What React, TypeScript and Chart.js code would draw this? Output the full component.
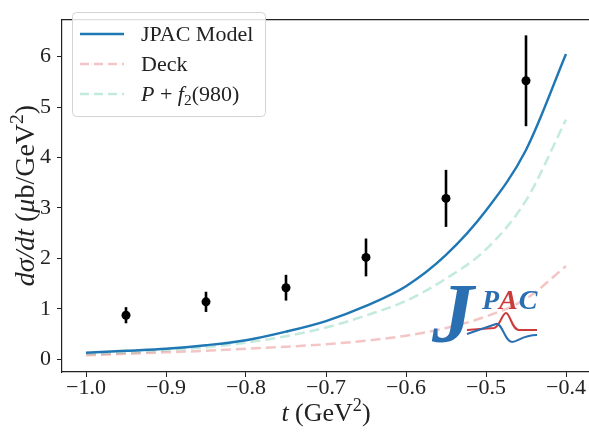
import React, { useEffect, useRef } from "react";
import { Chart, registerables } from "chart.js";

Chart.register(...registerables);

// ---- data ----
const xTicks = [-1.0, -0.9, -0.8, -0.7, -0.6, -0.5, -0.4];
const yTicks = [0, 1, 2, 3, 4, 5, 6];

const tGrid = [-1.0, -0.95, -0.9, -0.85, -0.8, -0.75, -0.7, -0.65, -0.6, -0.55, -0.5, -0.45, -0.4];
const jpacModel = [0.13, 0.17, 0.21, 0.28, 0.38, 0.55, 0.76, 1.06, 1.45, 2.07, 2.95, 4.15, 6.05];
const deck = [0.08, 0.11, 0.14, 0.17, 0.21, 0.25, 0.3, 0.37, 0.47, 0.62, 0.85, 1.2, 1.85];
const pomF2 = [0.1, 0.13, 0.18, 0.24, 0.33, 0.46, 0.63, 0.87, 1.16, 1.6, 2.18, 3.15, 4.75];

const dataT = [-0.95, -0.85, -0.75, -0.65, -0.55, -0.45];
const dataY = [0.875, 1.14, 1.42, 2.02, 3.19, 5.52];
const dataErr = [0.16, 0.2, 0.255, 0.375, 0.565, 0.9];

const FONT = '"Liberation Serif", "Times New Roman", serif';
const PINK = "rgba(214,39,40,0.27)";
const TEAL = "rgba(100,200,170,0.38)";

type Seg = { t: string; it?: boolean; sup?: boolean; sub?: boolean };

function segFont(s: Seg, size: number) {
  const sz = s.sup || s.sub ? size * 0.7 : size;
  return `${s.it ? "italic " : ""}${sz}px ${FONT}`;
}

function drawRich(ctx: CanvasRenderingContext2D, segs: Seg[], x: number, y: number, size: number, align: "left" | "center") {
  let w = 0;
  for (const s of segs) {
    ctx.font = segFont(s, size);
    w += ctx.measureText(s.t).width;
  }
  let cx = align === "center" ? x - w / 2 : x;
  ctx.textAlign = "left";
  ctx.textBaseline = "alphabetic";
  for (const s of segs) {
    ctx.font = segFont(s, size);
    let dy = 0;
    if (s.sup) dy = -size * 0.38;
    if (s.sub) dy = size * 0.18;
    ctx.fillText(s.t, cx, y + dy);
    cx += ctx.measureText(s.t).width;
  }
}

const fmt = (v: number) => (v < 0 ? "\u2212" : "") + Math.abs(v).toFixed(1);

const overlay = {
  id: "overlay",
  beforeDatasetsDraw(chart: any) {
    const { ctx, scales } = chart;
    const xs = scales.x, ys = scales.y;
    ctx.save();
    ctx.strokeStyle = "#000";
    ctx.lineWidth = 2.6;
    for (let i = 0; i < dataT.length; i++) {
      const px = xs.getPixelForValue(dataT[i]);
      ctx.beginPath();
      ctx.moveTo(px, ys.getPixelForValue(dataY[i] - dataErr[i]));
      ctx.lineTo(px, ys.getPixelForValue(dataY[i] + dataErr[i]));
      ctx.stroke();
    }
    ctx.restore();
  },
  afterDatasetsDraw(chart: any) {
    const ctx: CanvasRenderingContext2D = chart.ctx;
    // JPAC logo (decoration)
    ctx.save();
    const blue = "#2a6fb2";
    const red = "#cc3b3b";
    ctx.fillStyle = blue;
    ctx.textBaseline = "alphabetic";
    ctx.textAlign = "left";
    ctx.font = `bold italic 84px ${FONT}`;
    ctx.fillText("J", 432, 342);
    ctx.font = `bold italic 28px ${FONT}`;
    ctx.fillText("P", 482, 309);
    let w = ctx.measureText("P").width;
    ctx.fillStyle = red;
    ctx.fillText("A", 482 + w, 309);
    const w2 = ctx.measureText("A").width;
    ctx.fillStyle = blue;
    ctx.fillText("C", 482 + w + w2 + 1, 309);
    ctx.lineWidth = 2;
    ctx.strokeStyle = red;
    ctx.beginPath();
    ctx.moveTo(467, 330);
    ctx.lineTo(494, 328);
    ctx.bezierCurveTo(500, 327, 502, 313, 506, 313);
    ctx.bezierCurveTo(510, 313, 512, 330, 519, 330);
    ctx.lineTo(537, 330);
    ctx.stroke();
    ctx.strokeStyle = blue;
    ctx.beginPath();
    ctx.moveTo(467, 334);
    ctx.lineTo(496, 324);
    ctx.bezierCurveTo(502, 322, 505, 342, 512, 342);
    ctx.bezierCurveTo(518, 342, 522, 335, 537, 335);
    ctx.stroke();
    ctx.restore();
  },
  afterDraw(chart: any) {
    const ctx: CanvasRenderingContext2D = chart.ctx;
    const ca = chart.chartArea;
    ctx.save();
    // top spine
    ctx.strokeStyle = "#222";
    ctx.lineWidth = 1.2;
    ctx.beginPath();
    ctx.moveTo(ca.left, ca.top + 0.5);
    ctx.lineTo(ca.right + 10, ca.top + 0.5);
    ctx.stroke();

    // legend
    ctx.fillStyle = "rgba(255,255,255,0.85)";
    ctx.strokeStyle = "#d4d4d4";
    ctx.lineWidth = 1;
    ctx.beginPath();
    (ctx as any).roundRect(72.5, 12.5, 193, 104, 4);
    ctx.fill();
    ctx.stroke();
    const rows = [
      { y: 34, color: "#1f77b4", dash: [] as number[], segs: [{ t: "JPAC Model" }] as Seg[] },
      { y: 64, color: PINK, dash: [9, 5], segs: [{ t: "Deck" }] as Seg[] },
      {
        y: 94,
        color: TEAL,
        dash: [9, 5],
        segs: [{ t: "P", it: true }, { t: " + " }, { t: "f", it: true }, { t: "2", sub: true }, { t: "(980)" }] as Seg[],
      },
    ];
    for (const r of rows) {
      ctx.strokeStyle = r.color;
      ctx.lineWidth = r.dash.length ? 2.5 : 2.4;
      ctx.setLineDash(r.dash);
      ctx.beginPath();
      ctx.moveTo(80, r.y);
      ctx.lineTo(124, r.y);
      ctx.stroke();
      ctx.setLineDash([]);
      ctx.fillStyle = "#222";
      drawRich(ctx, r.segs, 141, r.y + 7, 22, "left");
    }

    // axis titles
    ctx.fillStyle = "#222";
    drawRich(
      ctx,
      [{ t: "t", it: true }, { t: " (GeV" }, { t: "2", sup: true }, { t: ")" }],
      (ca.left + ca.right) / 2,
      421,
      26,
      "center"
    );
    ctx.save();
    ctx.translate(34, (ca.top + ca.bottom) / 2);
    ctx.rotate(-Math.PI / 2);
    drawRich(
      ctx,
      [
        { t: "d\u03c3/dt", it: true },
        { t: " (" },
        { t: "\u03bc", it: true },
        { t: "b/GeV" },
        { t: "2", sup: true },
        { t: ")" },
      ],
      0,
      0,
      28,
      "center"
    );
    ctx.restore();
    ctx.restore();
  },
};

export default function App() {
  const ref = useRef<HTMLCanvasElement>(null);
  useEffect(() => {
    if (!ref.current) return;
    const chart = new Chart(ref.current, {
      type: "line",
      data: {
        datasets: [
          {
            label: "JPAC Model",
            data: tGrid.map((t, i) => ({ x: t, y: jpacModel[i] })),
            borderColor: "#1f77b4",
            borderWidth: 2.4,
            pointRadius: 0,
            cubicInterpolationMode: "monotone",
            fill: false,
          },
          {
            label: "Deck",
            data: tGrid.map((t, i) => ({ x: t, y: deck[i] })),
            borderColor: PINK,
            borderDash: [10, 5],
            borderWidth: 2.5,
            pointRadius: 0,
            cubicInterpolationMode: "monotone",
            fill: false,
          },
          {
            label: "P + f2(980)",
            data: tGrid.map((t, i) => ({ x: t, y: pomF2[i] })),
            borderColor: TEAL,
            borderDash: [10, 5],
            borderWidth: 2.5,
            pointRadius: 0,
            cubicInterpolationMode: "monotone",
            fill: false,
          },
          {
            label: "data",
            data: dataT.map((t, i) => ({ x: t, y: dataY[i] })),
            showLine: false,
            pointRadius: 4.5,
            pointBackgroundColor: "#000",
            pointBorderWidth: 0,
            borderColor: "#000",
          },
        ],
      },
      options: {
        responsive: false,
        animation: false,
        devicePixelRatio: 1,
        layout: { padding: { top: 7, left: 0, right: 10, bottom: 0 } },
        plugins: { legend: { display: false }, tooltip: { enabled: false } },
        scales: {
          x: {
            type: "linear",
            min: -1.03,
            max: -0.37,
            afterBuildTicks: (s: any) => {
              s.ticks = xTicks.map((v) => ({ value: v }));
            },
            afterFit: (s: any) => {
              s.height = 60;
            },
            grid: { drawOnChartArea: false, drawTicks: true, tickLength: 5, color: "#222" },
            border: { display: true, color: "#222", width: 1.2 },
            ticks: {
              autoSkip: false,
              maxRotation: 0,
              padding: -2,
              color: "#222",
              font: { family: FONT, size: 22 },
              callback: (v: any) => fmt(Number(v)),
            },
          },
          y: {
            type: "linear",
            min: -0.25,
            max: 6.74,
            afterBuildTicks: (s: any) => {
              s.ticks = yTicks.map((v) => ({ value: v }));
            },
            afterFit: (s: any) => {
              s.width = 62;
            },
            grid: { drawOnChartArea: false, drawTicks: true, tickLength: 5, color: "#222" },
            border: { display: true, color: "#222", width: 1.2 },
            ticks: {
              autoSkip: false,
              padding: 6,
              color: "#222",
              font: { family: FONT, size: 22 },
              callback: (v: any) => String(Math.round(Number(v))),
            },
          },
        },
      },
      plugins: [overlay],
    } as any);
    return () => chart.destroy();
  }, []);
  return (
    <div style={{ position: "absolute", left: 0, top: 0, width: 589, height: 432, overflow: "hidden", background: "#fff" }}>
      <canvas ref={ref} width={600} height={432} style={{ display: "block" }} />
    </div>
  );
}
